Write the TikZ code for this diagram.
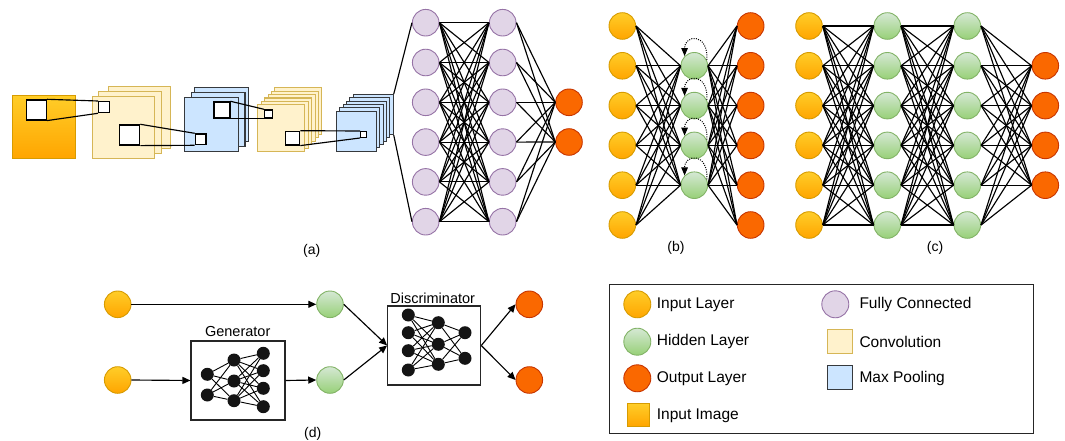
\documentclass[tikz,border=0pt]{standalone}
\usepackage{fontspec}
\setmainfont{Liberation Sans}
\usetikzlibrary{arrows.meta}
\definecolor{inpt}{HTML}{FFCD28}
\definecolor{inpb}{HTML}{FFA500}
\definecolor{inps}{HTML}{D79B00}
\definecolor{hidt}{HTML}{D5E8D4}
\definecolor{hidb}{HTML}{97D077}
\definecolor{hids}{HTML}{82B366}
\definecolor{outf}{HTML}{FA6800}
\definecolor{outs}{HTML}{C73500}
\definecolor{fcf}{HTML}{E1D5E7}
\definecolor{fcs}{HTML}{9673A6}
\definecolor{convf}{HTML}{FFF2CC}
\definecolor{convs}{HTML}{D6B656}
\definecolor{poolf}{HTML}{CCE5FF}
\definecolor{pools}{HTML}{36393D}
\tikzset{
 nn/.style={circle, inner sep=0pt, minimum size=26.6pt, line width=0.9pt},
 inl/.style={nn, draw=inps, top color=inpt, bottom color=inpb},
 hidl/.style={nn, draw=hids, top color=hidt, bottom color=hidb},
 outl/.style={nn, draw=outs, fill=outf},
 fcl/.style={nn, draw=fcs, fill=fcf},
 blk/.style={circle, inner sep=0pt, minimum size=13pt, fill=black!92},
 conn/.style={line width=1.15pt, black},
 arr/.style={conn, -{Triangle[length=8pt,width=7pt]}},
 sq/.style={rectangle, inner sep=0pt, anchor=north west, line width=1.1pt},
 convsq/.style={sq, draw=convs, fill=convf},
 poolsq/.style={sq, draw=pools, fill=poolf},
 imgsq/.style={sq, draw=inps, top color=inpt, bottom color=inpb},
 whsq/.style={sq, draw=black, fill=white, line width=1.3pt},
 lbl/.style={font=\fontsize{14}{16}\selectfont, inner sep=0pt},
 leg/.style={font=\fontsize{15.5}{18}\selectfont, anchor=west, inner sep=0pt},
 boxn/.style={draw=black!85, line width=1.1pt, inner sep=0pt},
}
\begin{document}
\begin{tikzpicture}[x=1pt,y=-1pt]
\useasboundingbox (0,0) rectangle (1065,441);

% ---------------- (a) CNN part
\node[imgsq, minimum width=62.7pt, minimum height=63.3pt] (img) at (12.3,95) {};
\node[whsq, minimum width=20pt, minimum height=20pt] (w1) at (25.7,99.3) {};

\node[convsq, minimum width=62.6pt, minimum height=62pt] (c1c) at (107.7,85.7) {};
\node[convsq, minimum width=63.3pt, minimum height=62pt] (c1b) at (97.7,90.7) {};
\node[convsq, minimum width=62.6pt, minimum height=62pt] (c1a) at (91.7,95.7) {};
\node[whsq, minimum width=11pt, minimum height=11pt] (s1) at (98,101) {};
\draw[conn] (w1.north east) -- (s1.north west);
\draw[conn] (w1.south east) -- (s1.south west);
\node[whsq, minimum width=20pt, minimum height=20pt] (w2) at (119,124.3) {};

\node[poolsq, minimum width=53.4pt, minimum height=53.4pt] (p1c) at (194.3,87.3) {};
\node[poolsq, minimum width=53.4pt, minimum height=53.4pt] (p1b) at (191,92.3) {};
\node[poolsq, minimum width=53.4pt, minimum height=53.4pt] (p1a) at (184.3,97.3) {};
\node[whsq, minimum width=10.5pt, minimum height=10.7pt] (s2) at (194.7,133.3) {};
\draw[conn] (w2.north east) -- (s2.north west);
\draw[conn] (w2.south east) -- (s2.south west);
\node[whsq, minimum width=16pt, minimum height=16pt] (w3) at (213.3,101.3) {};

\foreach \k in {5,4,...,0}{
  \node[convsq, minimum width=47pt, minimum height=46.7pt] (c2l\k) at ({257.3+3.4*\k},{104.3-3.4*\k}) {};
}
\node[whsq, minimum width=8pt, minimum height=8pt] (s3) at (264,109.3) {};
\draw[conn] (w3.north east) -- (s3.north west);
\draw[conn] (w3.south east) -- (s3.south west);
\node[whsq, minimum width=14pt, minimum height=13.6pt] (w4) at (285,130.7) {};

\foreach \k in {5,4,...,0}{
  \node[poolsq, minimum width=40pt, minimum height=40pt] (p2l\k) at ({336+3.33*\k},{110.7-3.33*\k}) {};
}
\node[whsq, minimum width=5.7pt, minimum height=5.7pt] (s4) at (360,131) {};
\draw[conn] (w4.north east) -- (s4.north west);
\draw[conn] (w4.south east) -- (s4.south west);

% ---------------- (a) FC part
\foreach \k in {1,...,6}{
  \node[fcl] (fa\k) at (425.7,{22.7+39.8*(\k-1)}) {};
  \node[fcl] (fb\k) at (502.7,{22.7+39.8*(\k-1)}) {};
}
\node[outl] (fo1) at (569,102.3) {};
\node[outl] (fo2) at (569,142) {};
\draw[conn] (p2l5.north east) -- (fa1.west);
\draw[conn] (p2l5.south east) -- (fa6.west);
\foreach \i in {1,...,6}{
  \foreach \j in {1,...,6}{ \draw[conn] (fa\i.east) -- (fb\j.west); }
  \foreach \j in {1,2}{ \draw[conn] (fb\i.east) -- (fo\j.west); }
}
\node[lbl] (la) at (311.7,250.7) {(a)};

% ---------------- (b)
\foreach \k in {1,...,6}{
  \node[inl] (bi\k) at (622.3,{26+39.8*(\k-1)}) {};
  \node[outl] (bo\k) at (750.7,{26+39.8*(\k-1)}) {};
}
\foreach \k in {1,...,4}{
  \node[hidl] (bh\k) at (694.3,{65.8+39.8*(\k-1)}) {};
}
\foreach \i in {1,...,6}{
  \foreach \j in {1,...,4}{
    \draw[conn] (bi\i.east) -- (bh\j.west);
    \draw[conn] (bh\j.east) -- (bo\i.west);
  }
}
\foreach \j in {1,...,4}{
  \draw[line width=1pt, dash pattern=on 1pt off 1.3pt, -{Triangle[length=8pt,width=6.5pt]}]
    (bh\j.25) .. controls +(2,-27) and +(0,-22) .. (bh\j.135);
}
\node[lbl] (lb) at (676,248.3) {(b)};

% ---------------- (c)
\foreach \k in {1,...,6}{
  \node[inl] (ci\k) at (809,{26+39.8*(\k-1)}) {};
  \node[hidl] (cg\k) at (887.3,{26+39.8*(\k-1)}) {};
  \node[hidl] (ch\k) at (967.3,{26+39.8*(\k-1)}) {};
}
\foreach \k in {1,...,4}{
  \node[outl] (co\k) at (1045.3,{65.8+39.8*(\k-1)}) {};
}
\foreach \i in {1,...,6}{
  \foreach \j in {1,...,6}{
    \draw[conn] (ci\i.east) -- (cg\j.west);
    \draw[conn] (cg\i.east) -- (ch\j.west);
  }
  \foreach \j in {1,...,4}{ \draw[conn] (ch\i.east) -- (co\j.west); }
}
\node[lbl] (lc) at (935,248.3) {(c)};

% ---------------- (d) GAN
\node[inl] (d1) at (117.7,304.3) {};
\node[inl] (d2) at (117.7,380) {};
\node[hidl] (g1) at (330,304.3) {};
\node[hidl] (g2) at (330,380) {};
\node[outl] (o1) at (529.3,304.3) {};
\node[outl] (o2) at (529.3,380) {};
\node[boxn, minimum width=94pt, minimum height=79pt] (gen) at (238,380.5) {};
\node[lbl, font=\fontsize{14.5}{16}\selectfont] (genl) at (237.7,331.7) {Generator};
\node[boxn, minimum width=93pt, minimum height=79pt] (dis) at (434.2,345.5) {};
\node[lbl, font=\fontsize{14.5}{16}\selectfont] (disl) at (432.7,298.3) {Discriminator};

\foreach \y [count=\k] in {374.3,395}{ \node[blk] (ga\k) at (207.3,\y) {}; }
\foreach \y [count=\k] in {360,381,400.7}{ \node[blk] (gb\k) at (234,\y) {}; }
\foreach \y [count=\k] in {353.3,370.7,388.3,406.7}{ \node[blk] (gc\k) at (263.3,\y) {}; }
\foreach \i in {1,2}{ \foreach \j in {1,2,3}{ \draw[line width=0.9pt] (ga\i) -- (gb\j); } }
\foreach \i in {1,2,3}{ \foreach \j in {1,...,4}{ \draw[line width=0.9pt] (gb\i) -- (gc\j); } }

\foreach \y [count=\k] in {315,332.7,350.7,370}{ \node[blk] (da\k) at (408.3,\y) {}; }
\foreach \y [count=\k] in {322.7,344.3,364.3}{ \node[blk] (db\k) at (438.3,\y) {}; }
\foreach \y [count=\k] in {332.7,358.3}{ \node[blk] (dc\k) at (465,\y) {}; }
\foreach \i in {1,...,4}{ \foreach \j in {1,2,3}{ \draw[line width=0.9pt] (da\i) -- (db\j); } }
\foreach \i in {1,2,3}{ \foreach \j in {1,2}{ \draw[line width=0.9pt] (db\i) -- (dc\j); } }

\draw[arr] (d1.east) -- (g1.west);
\draw[arr] (d2.east) -- (gen.west);
\draw[arr] (gen.east) -- (g2.west);
\draw[arr] (g1.east) -- (dis.west);
\draw[arr] (g2.east) -- (dis.west);
\draw[arr] (dis.east) -- (o1.west);
\draw[arr] (dis.east) -- (o2.west);
\node[lbl] (ld) at (312.7,434) {(d)};

% ---------------- legend
\node[boxn, minimum width=424.3pt, minimum height=149pt, anchor=north west] (legbox) at (609,284.3) {};
\node[inl, minimum size=27pt] (k1) at (637.3,304.3) {};
\node[hidl, minimum size=27pt] (k2) at (637.3,341.7) {};
\node[outl, minimum size=27pt] (k3) at (637.3,378.3) {};
\node[imgsq, minimum width=22.3pt, minimum height=22.4pt] (k4) at (626.7,403.3) {};
\node[fcl, minimum size=27pt] (k5) at (835.3,304.3) {};
\node[convsq, minimum width=25pt, minimum height=24pt] (k6) at (826.7,329.3) {};
\node[poolsq, minimum width=25pt, minimum height=24pt] (k7) at (826.7,365) {};
\node[leg] (t1) at (656.7,304.3) {Input Layer};
\node[leg] (t2) at (656.7,341.7) {Hidden Layer};
\node[leg] (t3) at (656.7,378.3) {Output Layer};
\node[leg] (t4) at (656.7,415.7) {Input Image};
\node[leg] (t5) at (859.3,304.3) {Fully Connected};
\node[leg] (t6) at (859.3,341.7) {Convolution};
\node[leg] (t7) at (859.3,378.3) {Max Pooling};
\end{tikzpicture}
\end{document}
